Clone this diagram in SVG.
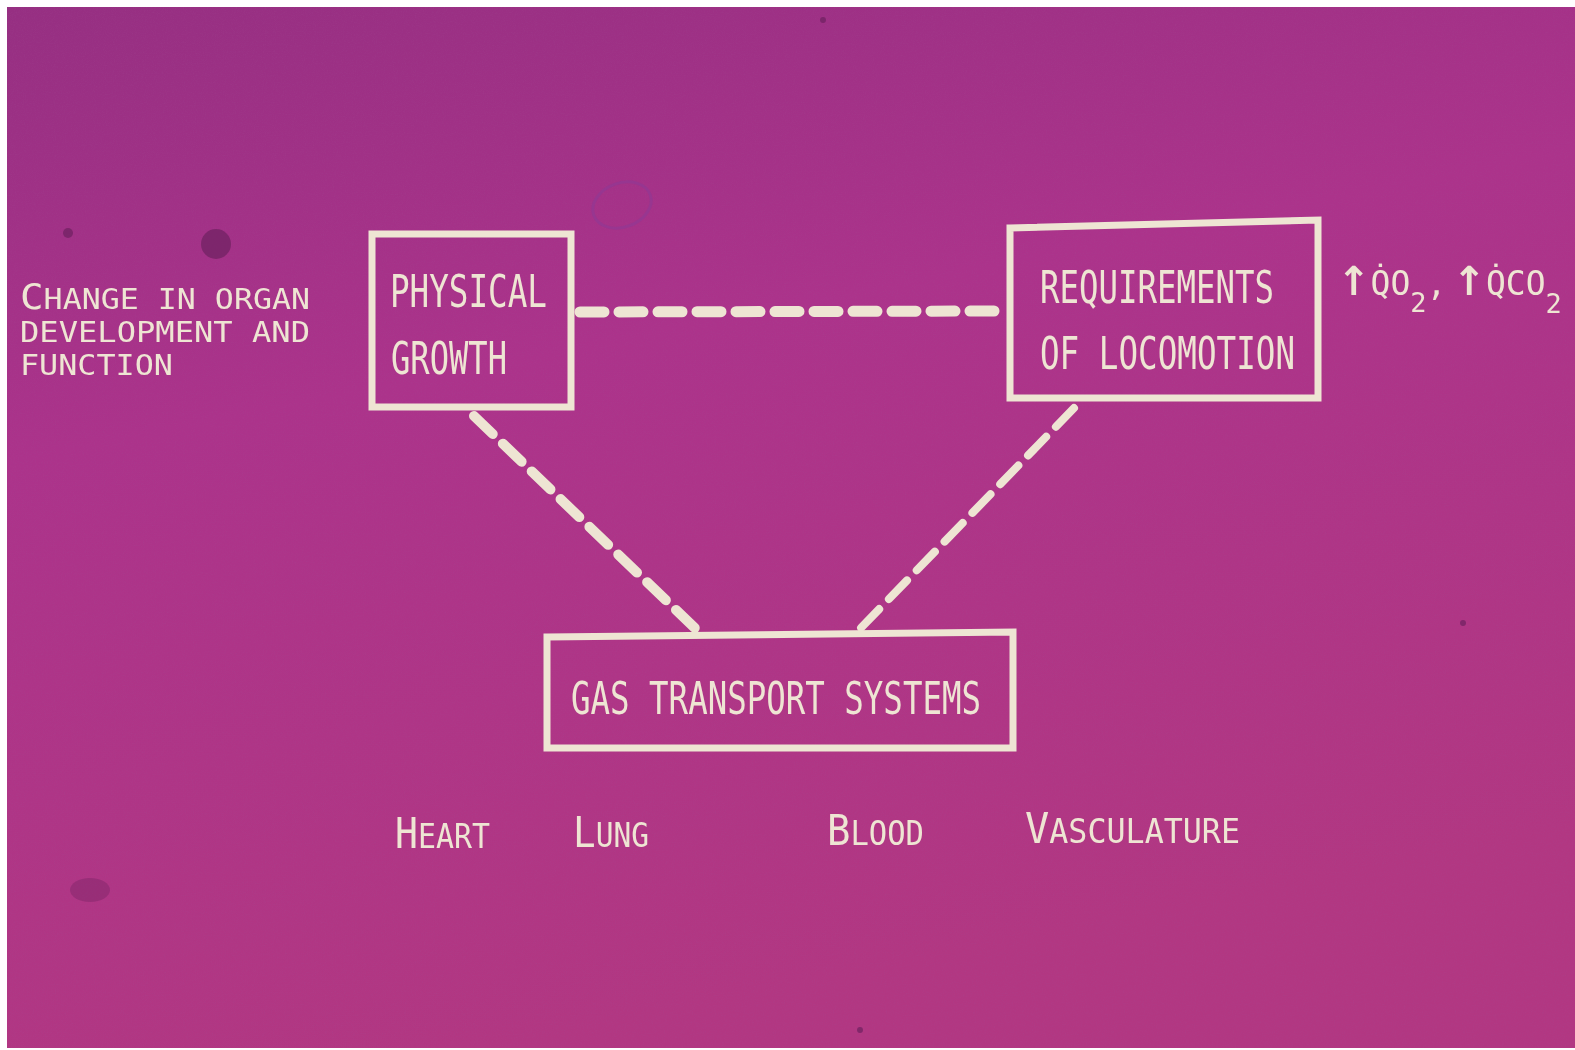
<svg xmlns="http://www.w3.org/2000/svg" width="1575" height="1050" viewBox="0 0 1575 1050">
<style>
.box{fill:none;stroke:#eee5d3;stroke-width:7;stroke-linejoin:miter}
.dash{fill:none;stroke:#eee5d3;stroke-linecap:round}
.t{fill:#eee5d3;font-family:"DejaVu Sans Mono","Liberation Mono",monospace}
.bx{font-size:45px}
.lt{font-size:29px}
.lb{font-size:33px}
.q{font-size:33px}
.ar{font-family:"DejaVu Sans",sans-serif;font-size:40px;font-weight:bold}
.sub{font-size:27px}
</style>
<defs>
<linearGradient id="bg" x1="0" y1="0" x2="0.3" y2="1">
<stop offset="0" stop-color="#962f82"/>
<stop offset="0.4" stop-color="#ac338b"/>
<stop offset="1" stop-color="#b23782"/>
</linearGradient>
<filter id="noise" x="0" y="0" width="100%" height="100%">
<feTurbulence type="fractalNoise" baseFrequency="0.9" numOctaves="2" seed="4" result="n"/>
<feColorMatrix in="n" type="matrix" values="0 0 0 0 0.35  0 0 0 0 0.08  0 0 0 0 0.3  0 0 0 -1.6 0.9"/>
</filter>
</defs>
<rect x="0" y="0" width="1575" height="1050" fill="#ffffff"/>
<rect x="7" y="7" width="1568" height="1041" fill="url(#bg)"/>
<rect x="7" y="7" width="1568" height="1041" filter="url(#noise)" opacity="0.25"/>
<g id="specks" fill="#6e2260" opacity="0.7">
<circle cx="216" cy="244" r="15"/>
<circle cx="68" cy="233" r="5"/>
<ellipse cx="90" cy="890" rx="20" ry="12" opacity="0.5"/>
<circle cx="1463" cy="623" r="3"/>
<circle cx="823" cy="20" r="3"/>
<circle cx="860" cy="1030" r="3"/>
</g>
<ellipse cx="622" cy="205" rx="30" ry="22" fill="none" stroke="#8a3a98" stroke-width="3" opacity="0.5" transform="rotate(-20 622 205)"/>

<g id="connectors">
<line class="dash" x1="580" y1="312" x2="1000" y2="311" stroke-width="11" stroke-dasharray="24 15"/>
<line class="dash" x1="474" y1="416" x2="700" y2="633" stroke-width="10" stroke-dasharray="26 14"/>
<line class="dash" x1="1074" y1="408" x2="857" y2="632" stroke-width="8" stroke-dasharray="26 14"/>
</g>

<g id="left-note">
<text class="t lt" x="20" y="309" textLength="290" lengthAdjust="spacingAndGlyphs"><tspan font-size="36">C</tspan>HANGE IN ORGAN</text>
<text class="t lt" x="20" y="342" textLength="290" lengthAdjust="spacingAndGlyphs">DEVELOPMENT AND</text>
<text class="t lt" x="20" y="375" textLength="153" lengthAdjust="spacingAndGlyphs">FUNCTION</text>
</g>

<g id="physical-growth">
<rect class="box" x="372" y="234" width="199" height="173"/>
<text class="t bx" x="390" y="307" textLength="157" lengthAdjust="spacingAndGlyphs">PHYSICAL</text>
<text class="t bx" x="391" y="374" textLength="116" lengthAdjust="spacingAndGlyphs">GROWTH</text>
</g>

<g id="requirements">
<polygon class="box" points="1010,228 1318,220 1318,398 1010,398"/>
<text class="t bx" x="1040" y="303" textLength="234" lengthAdjust="spacingAndGlyphs">REQUIREMENTS</text>
<text class="t bx" x="1040" y="369" textLength="255" lengthAdjust="spacingAndGlyphs">OF LOCOMOTION</text>
</g>

<g id="gas-rates">
<text class="t q" x="1337" y="295"><tspan class="ar">↑</tspan>Q̇O<tspan class="sub" dy="17">2</tspan><tspan dy="-17">,</tspan><tspan font-size="10"> </tspan><tspan class="ar">↑</tspan>Q̇CO<tspan class="sub" dy="18">2</tspan></text>
</g>

<g id="gas-transport">
<polygon class="box" points="547,637 1013,632 1013,748 547,748"/>
<text class="t bx" x="571" y="714" textLength="410" lengthAdjust="spacingAndGlyphs">GAS TRANSPORT SYSTEMS</text>
</g>

<g id="components">
<text class="t lb" x="395" y="848" textLength="95" lengthAdjust="spacingAndGlyphs"><tspan font-size="42">H</tspan>EART</text>
<text class="t lb" x="573" y="847" textLength="76" lengthAdjust="spacingAndGlyphs"><tspan font-size="42">L</tspan>UNG</text>
<text class="t lb" x="827" y="845" textLength="97" lengthAdjust="spacingAndGlyphs"><tspan font-size="42">B</tspan>LOOD</text>
<text class="t lb" x="1025" y="843" textLength="215" lengthAdjust="spacingAndGlyphs"><tspan font-size="42">V</tspan>ASCULATURE</text>
</g>
</svg>
